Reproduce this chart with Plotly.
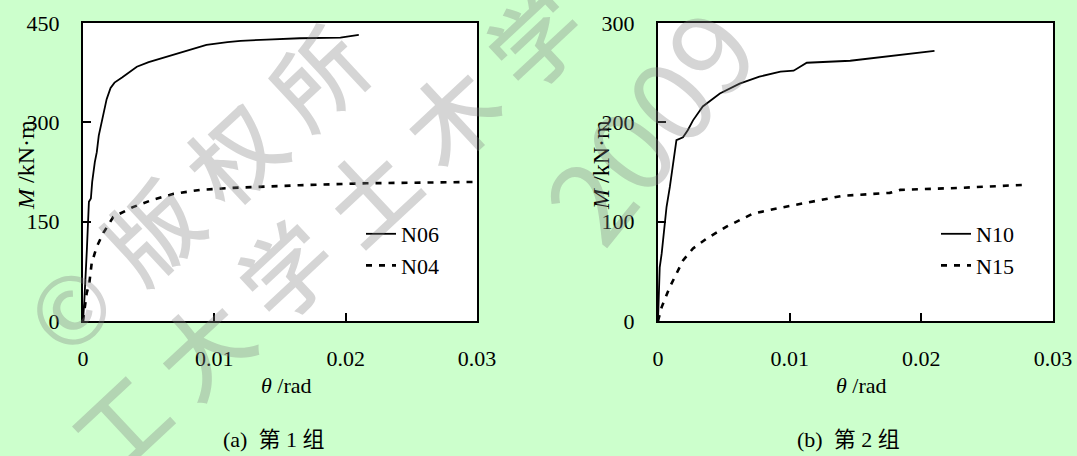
import plotly.graph_objects as go

W, H = 1077, 456

# ---- data ----
n06_theta = [0, 0.0001, 0.0003, 0.00045, 0.0006, 0.0007, 0.0009, 0.00105, 0.0012, 0.0014,
             0.0016, 0.0018, 0.0021, 0.0024, 0.003, 0.0035, 0.0041, 0.005, 0.006, 0.007,
             0.008, 0.0094, 0.011, 0.012, 0.014, 0.0165, 0.0196, 0.021]
n06_M = [0, 30, 110, 180, 185, 210, 240, 255, 280, 300,
         318, 335, 352, 360, 368, 375, 384, 391, 397, 403,
         409, 417, 421, 423, 425, 427, 428, 432]

n04_theta = [0, 0.00028, 0.00048, 0.00066, 0.00104, 0.00155, 0.0023, 0.0038, 0.0053, 0.0069,
             0.0089, 0.0114, 0.0165, 0.0216, 0.030]
n04_M = [0, 42, 57, 87, 112, 133, 157, 172, 183, 192,
         198, 201, 205, 208, 210]

n10_theta = [0, 0.00013, 0.00028, 0.00046, 0.00065, 0.0009, 0.00116, 0.0014, 0.0019, 0.00226,
             0.00266, 0.0034, 0.0047, 0.0062, 0.0077, 0.0093, 0.0103, 0.0113, 0.0146, 0.0171,
             0.0199, 0.021]
n10_M = [0, 54, 68, 92, 115, 135, 162, 182, 185, 192,
         202, 216, 229, 239, 246, 251, 252, 260, 262, 266,
         271, 272]

n15_theta = [0, 0.00028, 0.00089, 0.0019, 0.00266, 0.0037, 0.0052, 0.0072, 0.0093, 0.0113,
             0.014, 0.0176, 0.0184, 0.0229, 0.0277]
n15_M = [0, 14, 34, 61, 73, 83, 95, 108, 114, 119,
         126, 129, 132, 134, 137]

x_ticks = [0, 0.01, 0.02, 0.03]
x_ticktext = ["0", "0.01", "0.02", "0.03"]
y1_ticks = [0, 150, 300, 450]
y2_ticks = [0, 100, 200, 300]

SERIF = "Liberation Serif"
CJK = "Noto Sans CJK SC"

def px_x(p):
    return p / W

def px_y(p):
    return 1 - p / H

fig = go.Figure()

solid = dict(color="black", width=1.8)
dotted = dict(color="black", width=2.6, dash="6px,7px")

fig.add_trace(go.Scatter(x=n06_theta, y=n06_M, mode="lines", name="N06", line=solid,
                         xaxis="x", yaxis="y", legend="legend"))
fig.add_trace(go.Scatter(x=n04_theta, y=n04_M, mode="lines", name="N04", line=dotted,
                         xaxis="x", yaxis="y", legend="legend"))
fig.add_trace(go.Scatter(x=n10_theta, y=n10_M, mode="lines", name="N10", line=solid,
                         xaxis="x2", yaxis="y2", legend="legend2"))
fig.add_trace(go.Scatter(x=n15_theta, y=n15_M, mode="lines", name="N15", line=dotted,
                         xaxis="x2", yaxis="y2", legend="legend2"))

ydom = [px_y(321), px_y(23)]

common_x = dict(range=[0, 0.03], tickvals=x_ticks, ticktext=x_ticktext,
                ticks="inside", ticklen=8, tickwidth=1.5, tickcolor="black",
                showline=True, linecolor="black", linewidth=2, mirror=True,
                showgrid=False, zeroline=False, ticklabelstandoff=17, automargin=False,
                tickfont=dict(family=SERIF, size=22, color="black"))
common_y = dict(ticks="inside", ticklen=8, tickwidth=1.5, tickcolor="black",
                showline=True, linecolor="black", linewidth=2, mirror=True,
                showgrid=False, zeroline=False, ticklabelstandoff=17, automargin=False,
                tickfont=dict(family=SERIF, size=22, color="black"))

legend_common = dict(bgcolor="rgba(0,0,0,0)", borderwidth=0,
                     font=dict(family=SERIF, size=22, color="black"),
                     xanchor="left", yanchor="top", tracegroupgap=0)

annotations = []
# axis titles
for cx in (26, 601):
    annotations.append(dict(text="<i>M</i> /kN·m", x=px_x(cx), y=px_y(165), xref="paper", yref="paper",
                            showarrow=False, textangle=-90, xanchor="center", yanchor="middle",
                            font=dict(family=SERIF, size=24, color="black")))
for cx in (286, 861):
    annotations.append(dict(text="<i>θ</i> /rad", x=px_x(cx), y=px_y(385), xref="paper", yref="paper",
                            showarrow=False, xanchor="center", yanchor="middle",
                            font=dict(family=SERIF, size=22, color="black")))
for cx, cap in ((273, "(a)  第 1 组"), (848, "(b)  第 2 组")):
    annotations.append(dict(text=cap, x=px_x(cx), y=px_y(439), xref="paper", yref="paper",
                            showarrow=False, xanchor="center", yanchor="middle",
                            font=dict(family=SERIF + ", " + CJK, size=22, color="black")))

# watermark (one character per annotation, laid along a diagonal)
wm = "rgba(128,128,128,0.33)"
line1 = "©版权所"
line2 = "工大学土木学"
step = (83, -77)
for k, ch in enumerate(line1):
    cx, cy = 66 + step[0] * k, 305 + step[1] * k
    annotations.append(dict(text=ch, x=px_x(cx), y=px_y(cy), xref="paper", yref="paper",
                            showarrow=False, textangle=-43, xanchor="center", yanchor="middle",
                            font=dict(family=CJK, size=92, color=wm, weight=500)))
for k, ch in enumerate(line2):
    cx, cy = 283 + step[0] * (k - 2), 267 + step[1] * (k - 2)
    annotations.append(dict(text=ch, x=px_x(cx), y=px_y(cy), xref="paper", yref="paper",
                            showarrow=False, textangle=-43, xanchor="center", yanchor="middle",
                            font=dict(family=CJK, size=92, color=wm, weight=500)))
annotations.append(dict(text="2009", x=px_x(645), y=px_y(122), xref="paper", yref="paper",
                        showarrow=False, textangle=-51, xanchor="center", yanchor="middle",
                        font=dict(family=CJK, size=115, color=wm)))

fig.update_layout(
    template="none",
    width=W, height=H,
    margin=dict(l=0, r=0, t=0, b=0, autoexpand=False),
    paper_bgcolor="#ccffcc",
    plot_bgcolor="white",
    showlegend=True,
    xaxis=dict(domain=[px_x(83), px_x(477)], anchor="y", **common_x),
    yaxis=dict(domain=ydom, anchor="x", range=[0, 450], tickvals=y1_ticks, **common_y),
    xaxis2=dict(domain=[px_x(658), px_x(1053)], anchor="y2", **common_x),
    yaxis2=dict(domain=ydom, anchor="x2", range=[0, 300], tickvals=y2_ticks, **common_y),
    legend=dict(x=px_x(361), y=px_y(213), **legend_common),
    legend2=dict(x=px_x(936), y=px_y(213), **legend_common),
    annotations=annotations,
    font=dict(family=SERIF, color="black"),
)

fig.write_html("out.html", config={"displayModeBar": False},
               post_script="document.body.style.margin='0';document.body.style.overflow='hidden';")
